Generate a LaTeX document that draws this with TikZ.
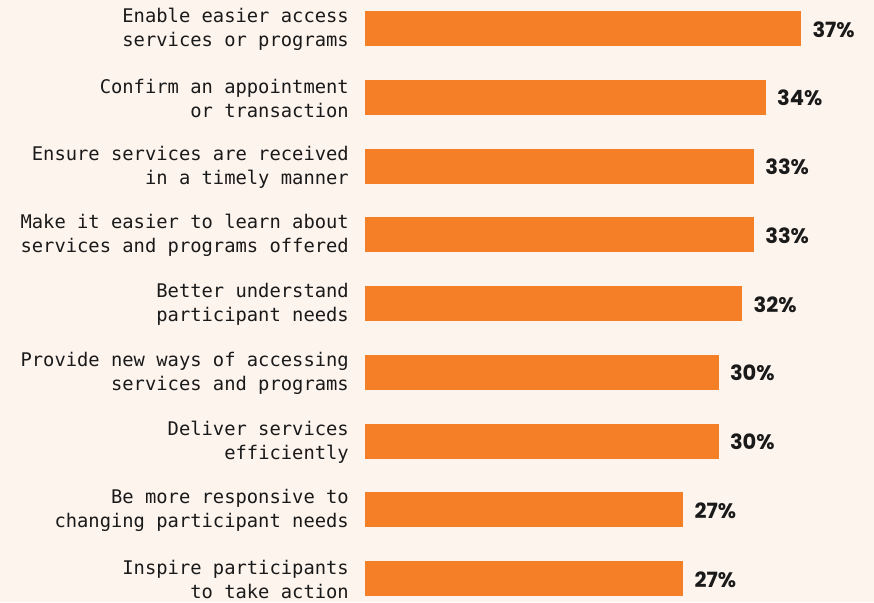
\documentclass[tikz,border=0pt]{standalone}
\usepackage{fontspec}
\usetikzlibrary{positioning}

\newfontfamily\labelfont{DejaVu Sans Mono}
\newfontfamily\pctfont{Poppins}

\definecolor{cream}{HTML}{FDF4EE}
\definecolor{barorange}{HTML}{F47F26}
\definecolor{inkdark}{HTML}{1A1A1A}

\begin{document}
\begin{tikzpicture}[x=1pt, y=-1pt]

    % Define styles
    \tikzstyle{bar} = [rectangle, fill=barorange, anchor=west, inner sep=0pt,
        minimum height=35pt]
    \tikzstyle{label} = [inner sep=0pt, align=right, text=inkdark, yshift=-1pt,
        font=\labelfont\fontsize{18.8}{24}\selectfont]
    \tikzstyle{pct} = [inner sep=0pt, text=inkdark, yshift=-1pt,
        font=\pctfont\bfseries\fontsize{21}{24}\selectfont]

    % Background
    \fill [cream] (0,0) rectangle (874,602);
    \useasboundingbox (0,0) rectangle (874,602);

    % Place bars (11.78pt per percent)
    \node [bar, minimum width=435.9pt] (access) at (365,28.5) {};
    \node [bar, minimum width=400.5pt] (confirm) at (365,97.25) {};
    \node [bar, minimum width=388.7pt] (timely) at (365,166) {};
    \node [bar, minimum width=388.7pt] (learn) at (365,234.75) {};
    \node [bar, minimum width=377pt] (needs) at (365,303.5) {};
    \node [bar, minimum width=353.4pt] (newways) at (365,372.25) {};
    \node [bar, minimum width=353.4pt] (deliver) at (365,441) {};
    \node [bar, minimum width=318pt] (responsive) at (365,509.75) {};
    \node [bar, minimum width=318pt] (inspire) at (365,578.5) {};

    % Place category labels
    \node [label, left=16pt of access] (l-access) {Enable easier access\\services or programs};
    \node [label, left=16pt of confirm] (l-confirm) {Confirm an appointment\\or transaction};
    \node [label, left=16pt of timely] (l-timely) {Ensure services are received\\in a timely manner};
    \node [label, left=16pt of learn] (l-learn) {Make it easier to learn about\\services and programs offered};
    \node [label, left=16pt of needs] (l-needs) {Better understand\\participant needs};
    \node [label, left=16pt of newways] (l-newways) {Provide new ways of accessing\\services and programs};
    \node [label, left=16pt of deliver] (l-deliver) {Deliver services\\efficiently};
    \node [label, left=16pt of responsive] (l-responsive) {Be more responsive to\\changing participant needs};
    \node [label, left=16pt of inspire] (l-inspire) {Inspire participants\\to take action};

    % Place values
    \node [pct, right=11pt of access] (v-access) {37\%};
    \node [pct, right=11pt of confirm] (v-confirm) {34\%};
    \node [pct, right=11pt of timely] (v-timely) {33\%};
    \node [pct, right=11pt of learn] (v-learn) {33\%};
    \node [pct, right=11pt of needs] (v-needs) {32\%};
    \node [pct, right=11pt of newways] (v-newways) {30\%};
    \node [pct, right=11pt of deliver] (v-deliver) {30\%};
    \node [pct, right=11pt of responsive] (v-responsive) {27\%};
    \node [pct, right=11pt of inspire] (v-inspire) {27\%};

\end{tikzpicture}
\end{document}
